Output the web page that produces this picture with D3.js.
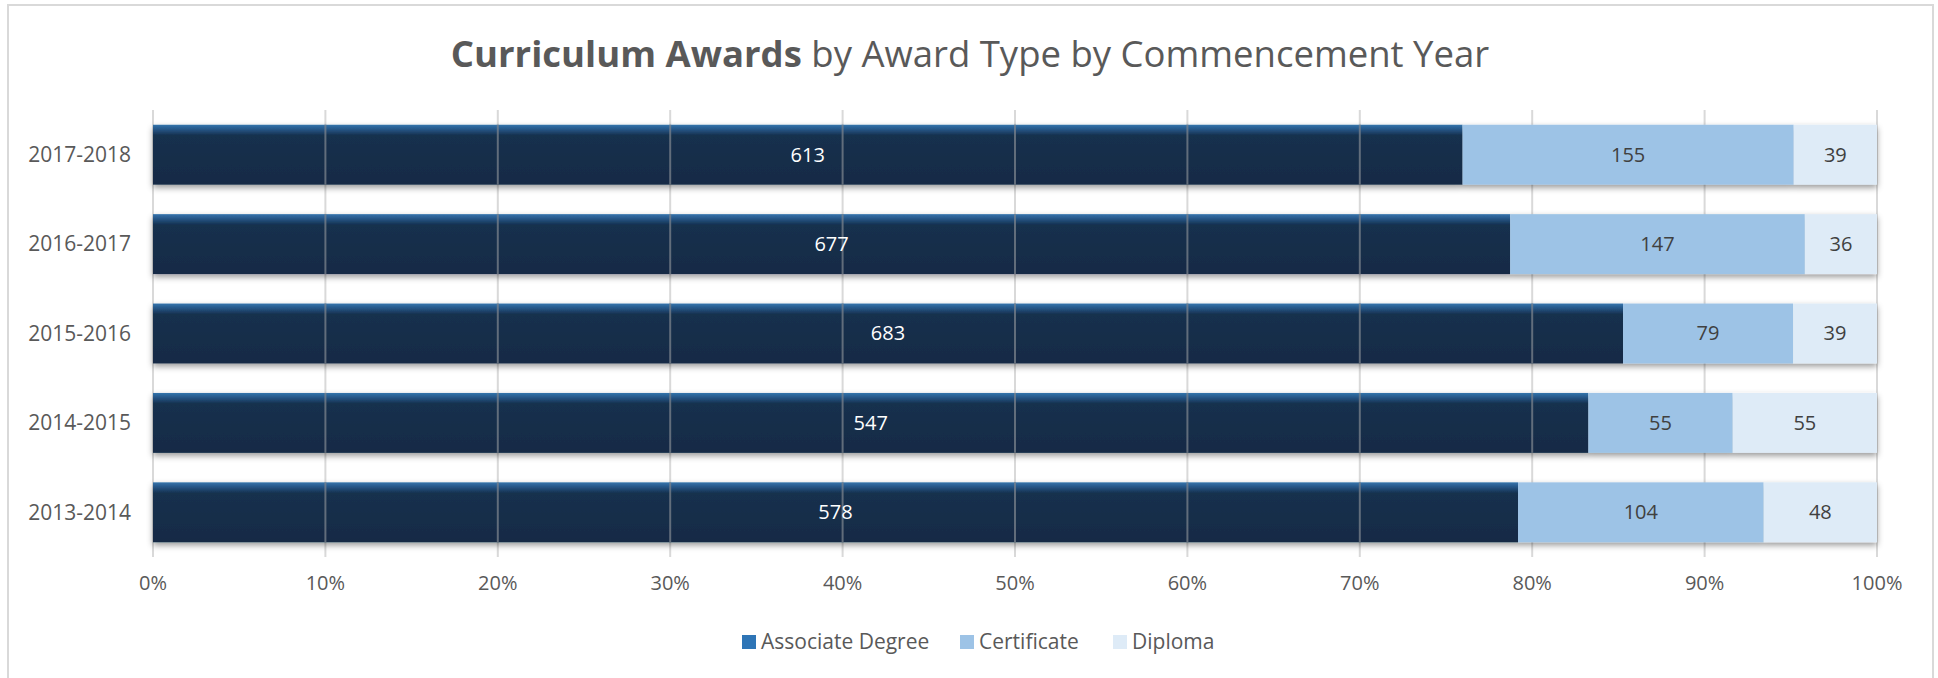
<!DOCTYPE html>
<html>
<head>
<meta charset="utf-8">
<script src="https://cdn.jsdelivr.net/npm/d3@7.9.0/dist/d3.min.js"></script>
<style>
  body { margin: 0; background: #fff; }
  svg text { font-family: "Open Sans", "Noto Sans", sans-serif; }
</style>
</head>
<body>
<svg id="chart" width="1938" height="678"></svg>
<script>
// data
const years = ['2017-2018', '2016-2017', '2015-2016', '2014-2015', '2013-2014'];
const associate = [613, 677, 683, 547, 578];
const certificate = [155, 147, 79, 55, 104];
const diploma = [39, 36, 39, 55, 48];
const seriesNames = ['Associate Degree', 'Certificate', 'Diploma'];
const tickValues = [0, 0.1, 0.2, 0.3, 0.4, 0.5, 0.6, 0.7, 0.8, 0.9, 1];

const colors = ['#2e75b6', '#9dc3e6', '#deebf7'];
const labelColors = ['#ffffff', '#404040', '#404040'];

const svg = d3.select('#chart');
const defs = svg.append('defs');

let grad = defs.append('linearGradient')
  .attr('id', 'darkGrad').attr('x1', 0).attr('y1', 0).attr('x2', 0).attr('y2', 1);
grad.append('stop').attr('offset', '0%').attr('stop-color', '#3474ac');
grad.append('stop').attr('offset', '7%').attr('stop-color', '#27588a');
grad.append('stop').attr('offset', '18%').attr('stop-color', '#15304e');
grad.append('stop').attr('offset', '100%').attr('stop-color', '#132b45');

let shadow = defs.append('filter').attr('id', 'shadow')
  .attr('x', '-5%').attr('y', '-30%').attr('width', '110%').attr('height', '160%');
shadow.append('feDropShadow')
  .attr('dx', 0).attr('dy', 3).attr('stdDeviation', 3)
  .attr('flood-color', '#000').attr('flood-opacity', 0.4);

// outer chart border
svg.append('rect')
  .attr('x', 8).attr('y', 5).attr('width', 1925).attr('height', 700)
  .attr('fill', 'none').attr('stroke', '#d9d9d9').attr('stroke-width', 2);

// title
let title = svg.append('text')
  .attr('x', 970).attr('y', 67)
  .attr('text-anchor', 'middle')
  .attr('fill', '#595959')
  .style('font-size', '36.5px');
title.append('tspan').attr('font-weight', 'bold').text('Curriculum Awards');
title.append('tspan').text(' by Award Type by Commencement Year');

const x = d3.scaleLinear().domain([0, 1]).range([153, 1877]);
const y = d3.scaleBand().domain(years).range([110, 557]).paddingInner(0.33).paddingOuter(0.165);

// gridlines
svg.append('g')
  .selectAll('line')
  .data(tickValues)
  .join('line')
  .attr('x1', (d) => x(d)).attr('x2', (d) => x(d))
  .attr('y1', 110).attr('y2', 557)
  .attr('stroke', '#d9d9d9').attr('stroke-width', 2);

// stacked percentages
let rows = years.map((yr, i) => {
  let vals = [associate[i], certificate[i], diploma[i]];
  let total = d3.sum(vals);
  let acc = 0;
  return {
    year: yr,
    segs: vals.map((v, k) => {
      let s = { k: k, value: v, x0: acc / total, x1: (acc + v) / total };
      acc += v;
      return s;
    }),
  };
});

let rowG = svg.append('g')
  .selectAll('g')
  .data(rows)
  .join('g')
  .attr('transform', (d) => `translate(0,${y(d.year)})`);

rowG.append('g')
  .attr('filter', 'url(#shadow)')
  .selectAll('rect')
  .data((d) => d.segs)
  .join('rect')
  .attr('x', (s) => x(s.x0))
  .attr('width', (s) => x(s.x1) - x(s.x0))
  .attr('y', 0)
  .attr('height', y.bandwidth())
  .attr('fill', (s) => (s.k === 0 ? 'url(#darkGrad)' : colors[s.k]));

// gridlines show through the dark segment
rowG.each(function (d) {
  d3.select(this).append('g')
    .selectAll('line')
    .data(tickValues.filter((t) => t > 0 && t < d.segs[0].x1))
    .join('line')
    .attr('x1', (t) => x(t)).attr('x2', (t) => x(t))
    .attr('y1', 0).attr('y2', y.bandwidth())
    .attr('stroke', '#7a828c').attr('stroke-width', 2).attr('opacity', 0.75);
});

rowG.append('g')
  .selectAll('text')
  .data((d) => d.segs)
  .join('text')
  .attr('x', (s) => (x(s.x0) + x(s.x1)) / 2)
  .attr('y', y.bandwidth() / 2)
  .attr('dy', '0.35em')
  .attr('text-anchor', 'middle')
  .attr('fill', (s) => labelColors[s.k])
  .style('font-size', '20px')
  .text((s) => s.value);

// y labels
svg.append('g')
  .selectAll('text')
  .data(years)
  .join('text')
  .attr('x', 131)
  .attr('y', (d) => y(d) + y.bandwidth() / 2)
  .attr('dy', '0.35em')
  .attr('text-anchor', 'end')
  .attr('fill', '#595959')
  .style('font-size', '21px')
  .text((d) => d);

// x labels
svg.append('g')
  .selectAll('text')
  .data(tickValues)
  .join('text')
  .attr('x', (d) => x(d))
  .attr('y', 583)
  .attr('dy', '0.35em')
  .attr('text-anchor', 'middle')
  .attr('fill', '#595959')
  .style('font-size', '20px')
  .text((d) => d3.format('.0%')(d));

// legend
const legendX = [742, 960, 1113];
let legend = svg.append('g')
  .selectAll('g')
  .data(seriesNames)
  .join('g')
  .attr('transform', (d, i) => `translate(${legendX[i]},642)`);
legend.append('rect')
  .attr('x', 0).attr('y', -7).attr('width', 14).attr('height', 14)
  .attr('fill', (d, i) => colors[i]);
legend.append('text')
  .attr('x', 19).attr('y', 0).attr('dy', '0.35em')
  .attr('fill', '#595959')
  .style('font-size', '21px')
  .text((d) => d);
</script>
</body>
</html>
